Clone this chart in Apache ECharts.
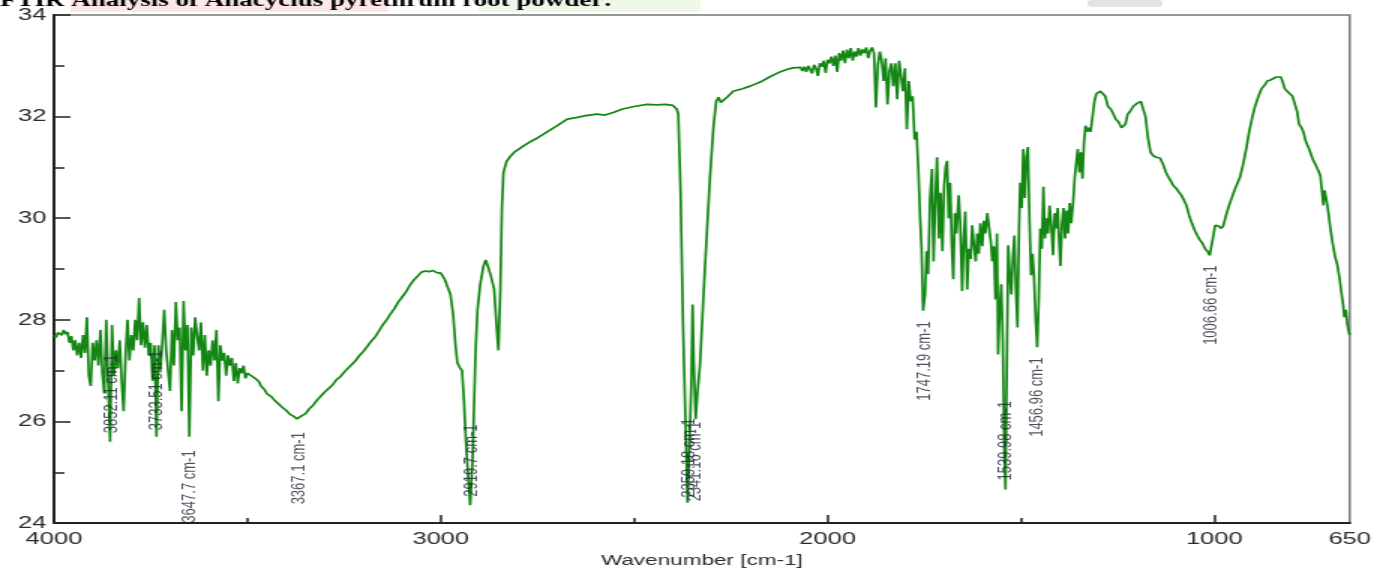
<!DOCTYPE html>
<html>
<head>
<meta charset="utf-8">
<script src="https://cdn.jsdelivr.net/npm/echarts@6/dist/echarts.min.js"></script>
<style>
    html, body { margin: 0; padding: 0; background: #fff; overflow: hidden; }
    /* the source figure is stretched sideways, so the chart is drawn narrow and widened */
    #main { width: 917px; height: 573px; transform: scaleX(1.5); transform-origin: 0 0; }
</style>
</head>
<body>
<div id="main"></div>
<script type="text/javascript">
    // spectrum segments, [wavenumber cm-1, transmittance]
    var noisyHigh = [
        [4000,27.70],[3995,27.65],[3990,27.75],[3985,27.78],[3980,27.70],[3975,27.80],[3970,27.72],[3965,27.76],
        [3960,27.55],[3955,27.68],[3950,27.40],[3945,27.60],[3940,27.30],[3935,27.55],[3930,27.25],[3925,27.70],
        [3920,27.35],[3915,28.05],[3910,26.90],[3905,26.70],[3900,27.55],[3895,27.20],[3890,27.60],[3885,27.10],
        [3880,27.80],[3875,26.95],[3870,26.55],[3865,28.00],[3860,26.80],[3855,25.60],[3850,27.90],[3845,26.90],
        [3840,27.40],[3835,27.05],[3830,27.60],[3825,26.80],[3820,26.20],[3815,27.30],[3810,28.00],[3805,27.20],
        [3800,27.70],[3795,27.40],[3790,28.00],[3785,27.60],[3780,28.43],[3775,27.50],[3770,27.95],[3765,27.45],
        [3760,27.90],[3755,27.30],[3750,27.55],[3745,26.80],[3740,27.50],[3735,25.70],[3730,27.50],[3725,27.00],
        [3720,27.55],[3715,28.20],[3710,27.40],[3705,27.00],[3700,26.60],[3695,27.80],[3690,27.10],[3685,28.35],
        [3680,27.60],[3675,27.85],[3670,26.20],[3665,28.37],[3660,27.40],[3655,27.90],[3650,25.70],[3645,27.85],
        [3640,27.30],[3635,28.05],[3630,27.70],[3625,27.40],[3620,27.95],[3615,27.00],[3610,27.70],[3605,26.90],
        [3600,27.40],[3595,27.10],[3590,27.60],[3585,27.20],[3580,27.80],[3575,26.40],[3570,27.50],[3565,27.20],
        [3560,27.35],[3555,26.90],[3550,27.30],[3545,27.10],[3540,27.25],[3535,26.80],[3530,27.15],[3525,26.75],
        [3520,27.05],[3515,26.95],[3510,27.10],[3505,26.85],[3500,26.95]
    ];
    var ohBand = [
        [3495,26.98],[3490,26.90],[3480,26.85],[3470,26.78],[3465,26.70],[3455,26.62],[3450,26.55],[3440,26.50],
        [3430,26.42],[3420,26.35],[3410,26.28],[3400,26.22],[3390,26.14],[3380,26.10],[3372,26.05],[3365,26.06],
        [3358,26.12],[3350,26.15],[3340,26.25],[3330,26.32],[3320,26.42],[3310,26.50],[3300,26.58],[3290,26.65],
        [3280,26.72],[3270,26.82],[3260,26.88],[3250,26.97],[3240,27.05],[3230,27.12],[3220,27.20],[3210,27.30],
        [3200,27.38],[3190,27.48],[3180,27.58],[3170,27.66],[3160,27.78],[3150,27.90],[3140,28.00],[3130,28.12],
        [3120,28.22],[3110,28.35],[3100,28.45],[3090,28.55],[3080,28.68],[3070,28.78],[3060,28.86],[3050,28.94],
        [3040,28.96],[3030,28.95],[3020,28.97],[3010,28.93],[3000,28.92]
    ];
    var chBand = [
        [2990,28.80],[2980,28.60],[2975,28.50],[2968,28.10],[2962,27.50],[2957,27.15],[2950,27.05],[2945,27.00],
        [2940,26.40],[2935,25.60],[2930,25.00],[2924,24.35],[2918,25.20],[2914,26.30],[2910,27.40],[2905,28.20],
        [2898,28.70],[2890,29.05],[2884,29.18],[2878,29.05],[2870,28.85],[2862,28.60],[2855,27.80],[2851,27.40],
        [2846,28.60],[2842,30.20],[2838,30.90],[2830,31.12],[2820,31.22],[2810,31.30],[2800,31.35]
    ];
    var co2Band = [
        [2787,31.42],[2770,31.50],[2750,31.58],[2725,31.70],[2700,31.82],[2673,31.95],[2650,31.98],[2625,32.02],
        [2596,32.05],[2575,32.03],[2554,32.08],[2530,32.15],[2500,32.20],[2467,32.24],[2440,32.23],[2420,32.24],
        [2400,32.22],[2390,32.15],[2386,32.05],[2380,30.50],[2374,28.00],[2368,26.20],[2362,24.40],[2357,25.60],
        [2352,26.80],[2349,28.30],[2346,27.20],[2341,26.05],[2336,26.60],[2330,27.10],[2320,28.60],[2310,30.00],
        [2304,30.80],[2295,31.80],[2288,32.30],[2282,32.38],[2276,32.28],[2270,32.30],[2260,32.38],[2244,32.50],
        [2220,32.55],[2200,32.60],[2174,32.68],[2150,32.78],[2123,32.88],[2100,32.94],[2089,32.96],[2070,32.97]
    ];
    var noisyMid = [
        [2065,32.90],[2060,32.98],[2055,32.88],[2050,33.00],[2045,32.98],[2040,32.85],[2035,33.02],[2030,32.95],
        [2025,32.80],[2020,33.05],[2015,32.98],[2010,33.10],[2005,32.86],[2000,33.12],[1995,33.05],[1990,33.18],
        [1985,33.00],[1980,33.20],[1975,32.88],[1970,33.25],[1965,33.10],[1960,33.30],[1955,33.05],[1950,33.32],
        [1945,33.15],[1940,33.35],[1935,33.10],[1930,33.28],[1925,33.18],[1920,33.35],[1915,33.20],[1910,33.32],
        [1905,33.25],[1900,33.36],[1895,33.15],[1890,33.30],[1885,33.36],[1880,33.25],[1875,32.18],[1870,33.00],
        [1865,33.28],[1860,33.10],[1855,32.70],[1850,33.15],[1845,32.24],[1840,32.90],[1835,33.05],[1830,32.60],
        [1825,33.05],[1820,32.34],[1815,33.10],[1810,32.80],[1805,32.50],[1800,32.95],[1795,31.75],[1790,32.70],
        [1785,32.30],[1780,32.40],[1775,31.55],[1770,31.70]
    ];
    var fingerprint = [
        [1765,30.90],[1761,30.05],[1757,29.40],[1753,28.18],[1748,28.50],[1744,29.35],[1740,28.90],[1735,30.40],
        [1730,30.97],[1726,29.15],[1722,30.20],[1717,31.20],[1712,29.60],[1708,30.50],[1703,29.35],[1699,30.60],
        [1695,31.00],[1691,31.13],[1687,30.00],[1683,30.70],[1679,29.50],[1675,28.80],[1671,30.10],[1667,29.70],
        [1661,30.45],[1657,29.90],[1652,28.57],[1648,29.60],[1644,30.13],[1639,28.60],[1635,29.40],[1630,29.20],
        [1626,29.86],[1622,29.50],[1617,29.15],[1613,29.70],[1609,29.30],[1605,29.90],[1600,29.45],[1596,29.95],
        [1592,29.70],[1587,30.10],[1583,29.85],[1578,29.55],[1574,29.15],[1570,29.45],[1566,28.40],[1562,29.70],
        [1559,27.32],[1555,28.20],[1551,28.70],[1547,27.60],[1543,25.40],[1540,24.66],[1537,26.80],[1533,29.47],
        [1529,28.90],[1525,28.50],[1521,29.20],[1517,29.66],[1513,28.60],[1509,27.85],[1505,29.80],[1502,30.70],
        [1498,30.20],[1494,31.36],[1490,30.40],[1486,31.20],[1482,31.40],[1478,30.00],[1474,28.88],[1470,29.30],
        [1466,28.80],[1462,28.00],[1458,27.46],[1454,28.40],[1450,29.80],[1446,29.40],[1442,30.62],[1438,29.60],
        [1434,30.00],[1430,29.70],[1426,30.25],[1422,29.90],[1417,29.27],[1413,30.10],[1409,29.80],[1405,30.20],
        [1401,29.50],[1398,29.06],[1394,29.90],[1390,30.20],[1386,29.60],[1382,30.15],[1378,29.70],[1374,30.30],
        [1370,29.90],[1365,30.33],[1361,30.80],[1357,31.10],[1353,31.36],[1349,30.90],[1345,31.30],[1341,30.78],
        [1337,31.50],[1333,31.82],[1329,31.70],[1325,31.78],[1320,31.70],[1315,32.00],[1310,32.30],[1305,32.45],
        [1300,32.48]
    ];
    var lowEnd = [
        [1295,32.50],[1288,32.45],[1282,32.40],[1275,32.20],[1268,32.15],[1261,32.05],[1255,31.95],[1248,31.90],
        [1240,31.78],[1236,31.80],[1230,31.85],[1224,32.05],[1218,32.10],[1210,32.20],[1200,32.26],[1190,32.30],
        [1184,32.28],[1178,32.00],[1172,31.60],[1165,31.30],[1158,31.23],[1150,31.20],[1140,31.18],[1132,31.05],
        [1125,30.90],[1118,30.80],[1110,30.70],[1106,30.64],[1100,30.60],[1092,30.52],[1085,30.45],[1080,30.42],
        [1072,30.25],[1065,30.05],[1058,29.90],[1050,29.75],[1044,29.66],[1038,29.58],[1030,29.50],[1024,29.40],
        [1018,29.35],[1012,29.27],[1008,29.30],[1004,29.60],[998,29.86],[990,29.85],[982,29.80],[977,29.85],
        [970,30.05],[962,30.25],[955,30.40],[948,30.55],[941,30.58],[934,30.80],[926,31.05],[918,31.35],
        [910,31.70],[903,31.95],[895,32.20],[886,32.40],[878,32.55],[870,32.62],[863,32.70],[855,32.72],
        [848,32.75],[840,32.78],[835,32.80],[828,32.78],[822,32.65],[818,32.55],[812,32.53],[805,32.45],
        [798,32.40],[791,32.37],[786,32.10],[781,31.85],[776,31.80],[770,31.70],[763,31.50],[756,31.38],
        [752,31.30],[745,31.15],[738,31.05],[732,30.95],[726,30.84],[722,30.55],[718,30.25],[715,30.55],
        [710,30.35],[705,30.10],[700,29.80],[694,29.50],[688,29.25],[682,29.08],[676,28.80],[670,28.45],
        [667,28.30],[664,28.05],[660,28.20],[656,27.90],[652,27.75],[650,27.70]
    ];

    var xTickLabels = [4000, 3000, 2000, 1000, 650];
    var xMajorTicks = [4000, 3000, 2000, 1000];
    var xMinorTicks = [3500, 2500, 1500];

    var peakNames = ['3852.11 cm-1', '3733.51 cm-1', '3647.7 cm-1', '3367.1 cm-1', '2919.7 cm-1',
        '2359.18 cm-1', '2341.16 cm-1', '1747.19 cm-1', '1539.98 cm-1', '1456.96 cm-1', '1006.66 cm-1'];
    var peakWavenumbers = [3852.11, 3733.51, 3647.7, 3367.1, 2919.7, 2359.18, 2341.16, 1747.19, 1539.98, 1456.96, 1006.66];
    // where the middle of each vertical label sits on the y scale
    var peakLabelY = [26.54, 26.61, 24.72, 25.08, 25.23, 25.28, 25.21, 27.19, 25.62, 26.48, 28.29];

    var spectrum = [].concat(noisyHigh, ohBand, chBand, co2Band, noisyMid, fingerprint, lowEnd);
    var peakData = peakNames.map(function (n, i) {
        return { name: n, value: [peakWavenumbers[i], peakLabelY[i]] };
    });

    var font = 'Liberation Sans, Arial, sans-serif';
    var myChart = echarts.init(document.getElementById('main'));
    option = {
        animation: false,
        grid: {
            left: 36,
            right: 17,
            top: 15,
            bottom: 46,
            show: true,
            borderColor: '#777',
            borderWidth: 1.5
        },
        graphic: [
            // faint watermark pieces behind the cut-off heading
            { type: 'rect', left: 47, top: 0, shape: { width: 212, height: 12 }, style: { fill: 'rgba(250,205,205,0.45)' }, z: 0 },
            { type: 'rect', left: 319, top: 0, shape: { width: 148, height: 12 }, style: { fill: 'rgba(215,240,205,0.45)' }, z: 0 },
            { type: 'rect', left: 725, top: 0, shape: { width: 50, height: 7, r: 3 }, style: { fill: 'rgba(200,200,200,0.5)' }, z: 0 },
            {
                type: 'text', left: 0, top: -8, z: 10,
                style: {
                    text: 'FTIR Analysis of Anacyclus pyrethrum root powder:',
                    font: 'bold 18px "Liberation Serif", "Times New Roman", serif',
                    fill: '#000'
                }
            }
        ],
        xAxis: [
            {
                type: 'value',
                inverse: true,
                min: 650,
                max: 4000,
                name: 'Wavenumber [cm-1]',
                nameLocation: 'middle',
                nameGap: 29,
                nameTextStyle: { fontSize: 15, color: '#2a2a33', fontFamily: font },
                axisLine: { show: true, lineStyle: { color: '#222', width: 2 } },
                axisTick: { show: true, inside: true, length: 8, customValues: xMajorTicks, lineStyle: { color: '#222', width: 1.5 } },
                axisLabel: {
                    customValues: xTickLabels,
                    fontSize: 17,
                    color: '#2a2a33',
                    margin: 8,
                    fontFamily: font,
                    formatter: function (v) { return String(v); }
                },
                splitLine: { show: false }
            },
            {
                type: 'value',
                inverse: true,
                min: 650,
                max: 4000,
                position: 'bottom',
                axisLine: { show: false },
                axisTick: { show: true, inside: true, length: 5, customValues: xMinorTicks, lineStyle: { color: '#222', width: 1.5 } },
                axisLabel: { show: false },
                splitLine: { show: false }
            }
        ],
        yAxis: {
            type: 'value',
            min: 24,
            max: 34,
            interval: 2,
            axisLine: { show: true, lineStyle: { color: '#222', width: 2 } },
            axisTick: { show: true, inside: true, length: 11, lineStyle: { color: '#222', width: 1.5 } },
            minorTick: { show: true, splitNumber: 2, length: 7, lineStyle: { color: '#222', width: 1.5 } },
            axisLabel: { fontSize: 17, color: '#2a2a33', margin: 5, fontFamily: font },
            splitLine: { show: false }
        },
        series: [
            {
                name: 'spectrum',
                type: 'line',
                data: spectrum,
                showSymbol: false,
                symbol: 'none',
                sampling: null,
                lineStyle: { color: '#138613', width: 1.7 },
                z: 3
            },
            {
                name: 'peaks',
                type: 'scatter',
                data: peakData,
                symbolSize: 1,
                itemStyle: { color: 'rgba(0,0,0,0)' },
                label: {
                    show: true,
                    position: 'inside',
                    rotate: 90,
                    formatter: '{b}',
                    fontSize: 13,
                    color: '#1e2433',
                    fontFamily: font
                },
                z: 4
            }
        ]
    };
    myChart.setOption(option);
</script>
</body>
</html>
